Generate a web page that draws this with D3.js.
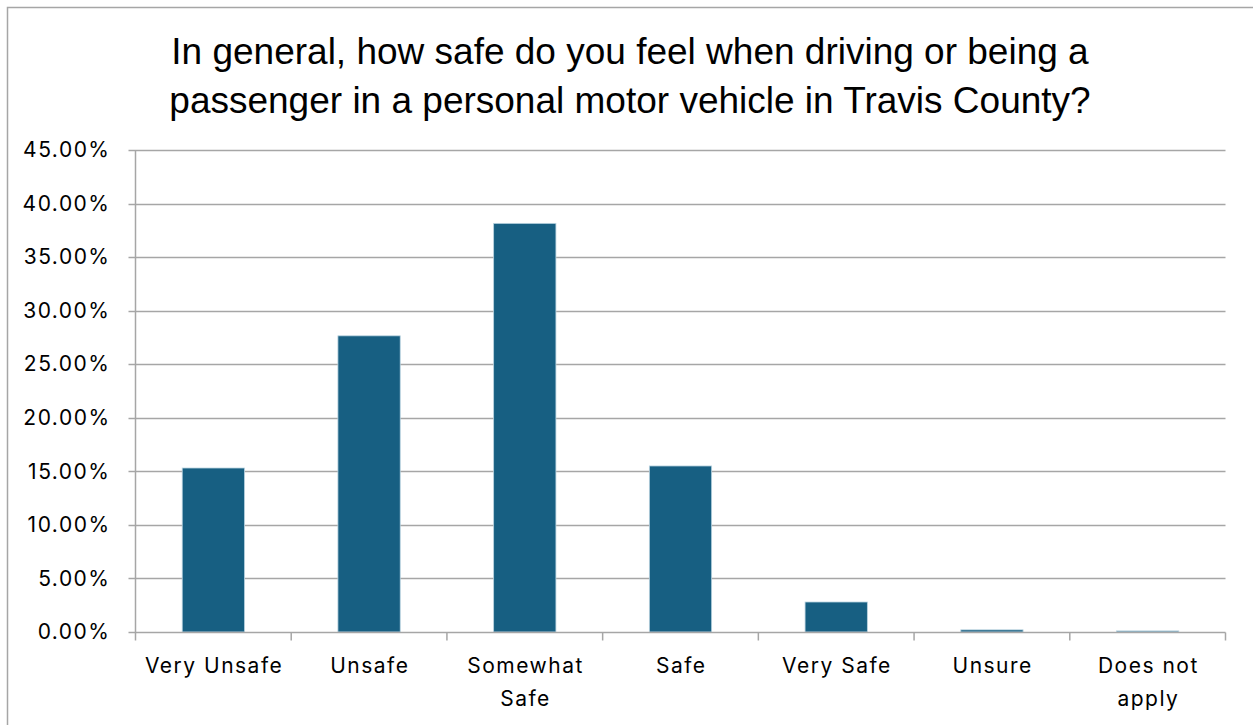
<!DOCTYPE html>
<html><head><meta charset="utf-8">
<script src="https://cdn.jsdelivr.net/npm/d3@7"></script>
<style>
html,body{margin:0;padding:0;background:#fff;}
svg{display:block;}
</style></head>
<body>
<svg id="chart" width="1253" height="725"></svg>
<script>
const categories = ["Very Unsafe","Unsafe","Somewhat Safe","Safe","Very Safe","Unsure","Does not apply"];
const categoryLines = [["Very Unsafe"],["Unsafe"],["Somewhat","Safe"],["Safe"],["Very Safe"],["Unsure"],["Does not","apply"]];
const values = [0.1531, 0.2765, 0.3815, 0.1550, 0.0280, 0.0020, 0.0010];
const yTicks = [0,0.05,0.10,0.15,0.20,0.25,0.30,0.35,0.40,0.45];
const titleLines = ["In general, how safe do you feel when driving or being a","passenger in a personal motor vehicle in Travis County?"];

const svg = d3.select("#chart");
const pLeft = 135.5, pRight = 1225.5, pTop = 150, pBottom = 632;
const x = d3.scaleBand().domain(categories).range([pLeft, pRight]).paddingInner(0.6).paddingOuter(0.3);
const xb = d3.scaleBand().domain(categories).range([pLeft, pRight]);
const y = d3.scaleLinear().domain([0,0.45]).range([pBottom, pTop]);
const labelFont = "Inter, 'Noto Sans', sans-serif";

// outer border
svg.append("path").attr("d","M7.5,725 L7.5,7.5 L1253,7.5").attr("fill","none").attr("stroke","#a6a6a6").attr("stroke-width",1.5);

// title
svg.append("text").attr("x",630).attr("y",64).attr("text-anchor","middle")
  .style("font-family","'Liberation Sans Narrow','Arial Narrow',sans-serif").style("font-size","37px").attr("fill","#000")
  .selectAll("tspan").data(titleLines).join("tspan").attr("x",630).attr("dy",(d,i)=>i?49:0).text(d=>d);

// gridlines
svg.append("g").selectAll("line").data(yTicks.slice(1)).join("line")
  .attr("x1",pLeft-7).attr("x2",pRight).attr("y1",d=>Math.round(y(d))+0.5).attr("y2",d=>Math.round(y(d))+0.5)
  .attr("stroke","#a6a6a6").attr("stroke-width",1.3);

// y axis
const yAxis = d3.axisLeft(y).tickValues(yTicks).tickFormat(d=>(d*100).toFixed(2)+"%").tickSize(0).tickPadding(25);
const gy = svg.append("g").attr("transform",`translate(${pLeft},0)`).call(yAxis);
gy.select(".domain").remove();
gy.selectAll("text").style("font-family",labelFont).style("font-size","21px").style("letter-spacing","1.5px").attr("fill","#000");
svg.append("line").attr("x1",pLeft).attr("x2",pLeft).attr("y1",pTop).attr("y2",pBottom).attr("stroke","#a6a6a6").attr("stroke-width",1.5);

// bars
svg.append("g").selectAll("rect").data(values).join("rect")
  .attr("x",(d,i)=>x(categories[i])).attr("width",x.bandwidth())
  .attr("y",d=>y(d)).attr("height",d=>pBottom-y(d))
  .attr("fill","#175f82").attr("stroke","#b9d3e0").attr("stroke-width",0.8);

// x axis
const gx = svg.append("g").attr("transform",`translate(0,${pBottom+0.5})`);
gx.append("line").attr("x1",pLeft-7).attr("x2",pRight).attr("stroke","#a6a6a6").attr("stroke-width",1.5);
gx.selectAll("line.tk").data(d3.range(categories.length+1)).join("line").attr("class","tk")
  .attr("x1",i=>pLeft+i*xb.step()).attr("x2",i=>pLeft+i*xb.step()).attr("y1",0).attr("y2",8)
  .attr("stroke","#a6a6a6").attr("stroke-width",1.5);
gx.selectAll("text").data(categoryLines).join("text")
  .attr("x",(d,i)=>xb(categories[i])+xb.bandwidth()/2+0.75).attr("y",40).attr("text-anchor","middle")
  .style("font-family",labelFont).style("font-size","21px").style("letter-spacing","1.5px").attr("fill","#000")
  .selectAll("tspan").data(d=>d).join("tspan")
  .attr("x",function(){return this.parentNode.getAttribute("x");}).attr("dy",(d,i)=>i?33:0).text(d=>d);
</script>
</body></html>
